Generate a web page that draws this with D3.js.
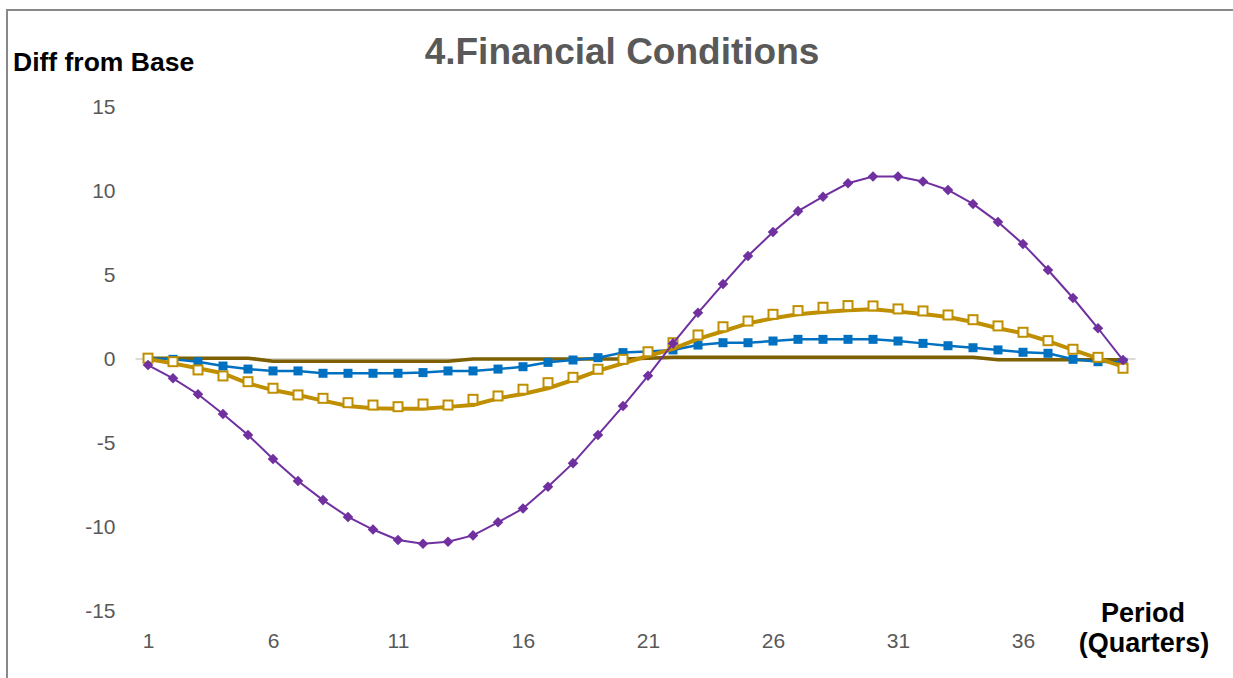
<!DOCTYPE html>
<html>
<head>
<meta charset="utf-8">
<script src="https://cdn.jsdelivr.net/npm/d3@7/dist/d3.min.js"></script>
<style>
  body { margin: 0; background: #fff; }
  text { font-family: "Liberation Sans", Arial, sans-serif; }
</style>
</head>
<body>
<div id="chart"></div>
<script>
var periods = d3.range(1, 41);
var xTicks = [1, 6, 11, 16, 21, 26, 31, 36];
var yTicks = [-15, -10, -5, 0, 5, 10, 15];

var purpleVals = [-0.36, -1.15, -2.1, -3.27, -4.52, -5.95, -7.26, -8.4, -9.4, -10.15,
  -10.77, -11.0, -10.88, -10.5, -9.72, -8.9, -7.6, -6.2, -4.52, -2.8,
  -1.0, 0.93, 2.75, 4.46, 6.13, 7.56, 8.8, 9.66, 10.46, 10.86,
  10.86, 10.57, 10.06, 9.23, 8.15, 6.85, 5.3, 3.63, 1.83, -0.06];
var blueVals = [0.05, -0.02, -0.16, -0.42, -0.6, -0.71, -0.71, -0.85, -0.85, -0.85,
  -0.85, -0.81, -0.71, -0.71, -0.6, -0.46, -0.2, -0.06, 0.08, 0.38,
  0.45, 0.54, 0.83, 0.97, 0.97, 1.07, 1.17, 1.17, 1.17, 1.17,
  1.07, 0.93, 0.79, 0.67, 0.54, 0.4, 0.34, -0.02, -0.16, -0.2];
var goldSquareVals = [0.05, -0.16, -0.65, -1.01, -1.35, -1.74, -2.14, -2.34, -2.6, -2.74,
  -2.84, -2.68, -2.74, -2.4, -2.2, -1.8, -1.41, -1.09, -0.61, -0.02,
  0.43, 0.97, 1.43, 1.92, 2.26, 2.66, 2.88, 3.08, 3.18, 3.16,
  2.98, 2.86, 2.62, 2.34, 1.97, 1.59, 1.09, 0.58, 0.1, -0.55];
var goldLineVals = [0, -0.26, -0.55, -0.85, -1.45, -1.85, -2.14, -2.48, -2.8, -2.93,
  -2.96, -2.96, -2.85, -2.74, -2.34, -2.08, -1.74, -1.25, -0.7, -0.26,
  0.18, 0.6, 1.2, 1.65, 2.12, 2.42, 2.66, 2.8, 2.9, 2.96,
  2.82, 2.68, 2.5, 2.2, 1.83, 1.53, 1.07, 0.54, 0.04, -0.46];
var brownVals = [0.05, 0.05, 0.05, 0.05, 0.05, -0.13, -0.13, -0.13, -0.13, -0.13,
  -0.13, -0.13, -0.13, 0, 0, 0, 0, 0, 0, 0,
  0.05, 0.1, 0.1, 0.1, 0.1, 0.1, 0.1, 0.1, 0.1, 0.1,
  0.1, 0.1, 0.1, 0.1, -0.04, -0.04, -0.04, -0.04, -0.04, -0.04];

var W = 1233, H = 678;

var svg = d3.select("#chart").append("svg")
  .attr("width", W)
  .attr("height", H);

// frame (only top and left edges show in the picture)
svg.append("path")
  .attr("d", "M7," + (H + 5) + "V10H" + (W + 5))
  .attr("fill", "none")
  .attr("stroke", "#898989")
  .attr("stroke-width", 2);

var x = d3.scaleLinear().domain([1, 40]).range([148, 1123]);
var y = d3.scaleLinear().domain([-15, 15]).range([611, 107]);

// axes, labels only (plain hyphen for negatives)
var plain = function (d) { return String(d); };
var yAxis = svg.append("g")
  .attr("transform", "translate(135.5,0)")
  .call(d3.axisLeft(y).tickValues(yTicks).tickFormat(plain).tickSize(0).tickPadding(20));
var xAxis = svg.append("g")
  .attr("transform", "translate(0,611)")
  .call(d3.axisBottom(x).tickValues(xTicks).tickFormat(plain).tickSize(0).tickPadding(22));
[yAxis, xAxis].forEach(function (g) {
  g.select(".domain").remove();
  g.selectAll("text")
    .attr("fill", "#595959")
    .style("font-size", "21px")
    .style("font-family", "'Liberation Sans', Arial, sans-serif");
});

// zero line
svg.append("line")
  .attr("x1", x(0.5)).attr("x2", x(40.5))
  .attr("y1", y(0)).attr("y2", y(0))
  .attr("stroke", "#d9d9d9")
  .attr("stroke-width", 2);

var line = function (vals) {
  return d3.line()
    .x(function (d, i) { return x(periods[i]); })
    .y(function (d) { return y(d); })(vals);
};

svg.append("path").attr("d", line(brownVals))
  .attr("fill", "none").attr("stroke", "#7f6000").attr("stroke-width", 3.5);

svg.append("path").attr("d", line(blueVals))
  .attr("fill", "none").attr("stroke", "#0070c0").attr("stroke-width", 2.5);
svg.selectAll("rect.blue")
  .data(blueVals)
  .enter().append("rect")
  .attr("class", "blue")
  .attr("x", function (d, i) { return x(periods[i]) - 4.5; })
  .attr("y", function (d) { return y(d) - 4.5; })
  .attr("width", 9).attr("height", 9)
  .attr("fill", "#0070c0");

svg.append("path").attr("d", line(goldLineVals))
  .attr("fill", "none").attr("stroke", "#bf8f00").attr("stroke-width", 4)
  .attr("stroke-linejoin", "round");

svg.selectAll("rect.gold")
  .data(goldSquareVals)
  .enter().append("rect")
  .attr("class", "gold")
  .attr("x", function (d, i) { return x(periods[i]) - 4.5; })
  .attr("y", function (d) { return y(d) - 4.5; })
  .attr("width", 9).attr("height", 9)
  .attr("fill", "#fff")
  .attr("stroke", "#bf8f00")
  .attr("stroke-width", 2);

svg.append("path").attr("d", line(purpleVals))
  .attr("fill", "none").attr("stroke", "#7030a0").attr("stroke-width", 2);
svg.selectAll("path.diamond")
  .data(purpleVals)
  .enter().append("path")
  .attr("class", "diamond")
  .attr("d", d3.symbol(d3.symbolSquare, 56)())
  .attr("transform", function (d, i) {
    return "translate(" + x(periods[i]) + "," + y(d) + ") rotate(45)";
  })
  .attr("fill", "#7030a0");

// titles
svg.append("text")
  .attr("x", 622).attr("y", 64)
  .attr("text-anchor", "middle")
  .attr("fill", "#595959")
  .style("font-size", "37px").style("font-weight", "bold")
  .text("4.Financial Conditions");

svg.append("text")
  .attr("x", 13).attr("y", 71)
  .attr("fill", "#000")
  .style("font-size", "26.5px").style("font-weight", "bold")
  .text("Diff from Base");

svg.append("text")
  .attr("x", 1143).attr("y", 622)
  .attr("text-anchor", "middle")
  .style("font-size", "27px").style("font-weight", "bold")
  .text("Period");
svg.append("text")
  .attr("x", 1144).attr("y", 652)
  .attr("text-anchor", "middle")
  .style("font-size", "27px").style("font-weight", "bold")
  .text("(Quarters)");
</script>
</body>
</html>
